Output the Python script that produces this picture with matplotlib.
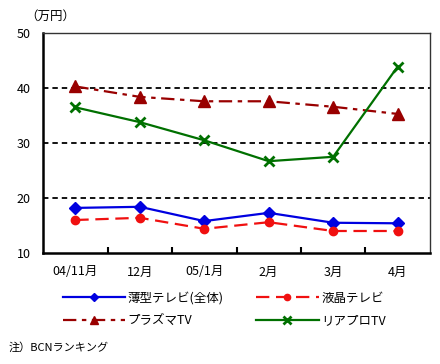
import matplotlib
matplotlib.use("Agg")
import matplotlib.pyplot as plt

plt.rcParams["font.family"] = ["Noto Sans CJK JP", "DejaVu Sans"]

months = ["04/11月", "12月", "05/1月", "2月", "3月", "4月"]
thin_all = [18.2, 18.4, 15.8, 17.3, 15.5, 15.4]
lcd = [16.0, 16.4, 14.4, 15.6, 14.0, 14.0]
plasma = [40.3, 38.4, 37.6, 37.6, 36.6, 35.3]
rearpro = [36.5, 33.8, 30.5, 26.7, 27.5, 43.9]

fig = plt.figure(figsize=(4.4, 3.64), dpi=100)
ax = fig.add_axes([0.098, 0.305, 0.879, 0.604])

x = [i + 0.5 for i in range(len(months))]

for yv in (20, 30, 40):
    ax.axhline(yv, color="black", lw=1.3, ls=(0, (3, 2.2)), zorder=1)

h1, = ax.plot(x, thin_all, color="#0000E0", lw=1.6, marker="D", ms=6,
              label="薄型テレビ(全体)", zorder=3)
h2, = ax.plot(x, lcd, color="#F01010", lw=1.6, ls=(0, (6, 3)), marker="o",
              ms=6, label="液晶テレビ", zorder=3)
h3, = ax.plot(x, plasma, color="#990000", lw=1.6, ls=(0, (6, 2.5, 2, 2.5)),
              marker="^", ms=8, label="プラズマTV", zorder=3)
h4, = ax.plot(x, rearpro, color="#007000", lw=1.6, marker="x", ms=7, mew=2,
              label="リアプロTV", zorder=3)

ax.set_xlim(0, 6)
ax.set_ylim(10, 50)
ax.set_yticks([10, 20, 30, 40, 50])
ax.set_xticks(x)
ax.set_xticklabels(months)
ax.set_xticks(range(1, 6), minor=True)
ax.tick_params(axis="x", which="major", length=0, pad=9, labelsize=9)
ax.tick_params(axis="x", which="minor", direction="in", length=4, width=1.5)
ax.tick_params(axis="y", length=0, pad=9, labelsize=9)
for side in ("left", "bottom"):
    ax.spines[side].set_linewidth(1.8)
for side in ("top", "right"):
    ax.spines[side].set_linewidth(1.0)
    ax.spines[side].set_color("#333333")

fig.text(0.058, 0.955, "（万円）", fontsize=9, ha="left", va="center")

fig.legend([h1, h3, h2, h4],
           [h1.get_label(), h3.get_label(), h2.get_label(), h4.get_label()],
           loc="upper left", bbox_to_anchor=(0.117, 0.23), ncol=2,
           frameon=False, fontsize=9, handlelength=5.0, handletextpad=0.2,
           columnspacing=2.6, labelspacing=0.75, markerscale=0.75)

fig.text(0.02, 0.045, "注）BCNランキング", fontsize=8, ha="left", va="center")

fig.savefig("out.png", dpi=100)
